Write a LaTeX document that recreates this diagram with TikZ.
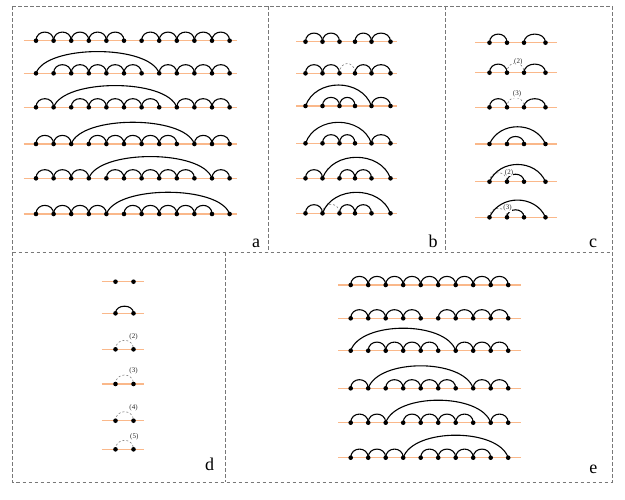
\documentclass[tikz,border=0pt]{standalone}
\usepackage{fontspec}
\setmainfont{Liberation Serif}
\usetikzlibrary{calc}
\definecolor{baseor}{RGB}{250,184,138}
\definecolor{framegray}{RGB}{120,120,120}
\tikzset{
  baseln/.style={draw=baseor, line width=1.1pt},
  arcln/.style={draw=black, line width=1.1pt},
  sa/.style={to path={.. controls +(0,-#1) and +(0,-#1) .. (\tikztotarget)}},
  sa/.default=11.5,
  ba/.style={to path={.. controls +(10,-#1) and +(-10,-#1) .. (\tikztotarget)}},
  dasharc/.style={draw=gray, line width=0.6pt, dash pattern=on 2pt off 2pt},
  lab/.style={font=\fontsize{7}{8}\selectfont, inner sep=0.4pt, fill=white, text=black!85},
  frameln/.style={draw=framegray, line width=0.8pt, dash pattern=on 3.5pt off 2.5pt},
  panel/.style={font=\fontsize{18}{20}\selectfont, anchor=base, inner sep=0pt},
}
\newcommand\mkrow[5]{%
  \foreach \xx [count=\ii] in #3 {\coordinate (#1-\ii) at (\xx,#2);}
  \coordinate (#1-L) at (#4,#2); \coordinate (#1-R) at (#5,#2);
  \draw[baseln] (#1-L) -- (#1-R);
}
\newcommand\mkdots[2]{\foreach \ii in {1,...,#2} {\fill (#1-\ii) circle (2.3);}}
\newcommand\arcchain[3]{%
  \pgfmathtruncatemacro\chs{#2+1}%
  \foreach \kk in {\chs,...,#3} {%
    \pgfmathtruncatemacro\jj{\kk-1}%
    \draw[arcln] (#1-\jj) to[sa] (#1-\kk);}%
}
\newcommand\bigarc[4]{\draw[arcln] (#1-#2) to[ba=#4] (#1-#3);}
\def\AX{36,53.6,71.2,88.8,106.4,124,141.6,159.2,176.8,194.4,212,229.6}
\def\BX{305.5,322.5,339.5,355,371.5,390.5}
\def\CX{489.5,507,524,545.5}
\def\DX{115.5,133.5}
\def\EX{350.7,368.2,385.7,403.2,420.7,438.2,455.7,473.2,490.7,508.2}
\begin{document}
\begin{tikzpicture}[x=1pt,y=-1pt]
\useasboundingbox (0,0) rectangle (625,499);
% frame
\draw[frameln] (12.5,6) rectangle (612,482);
\draw[frameln] (12.5,252) -- (612,252);
\draw[frameln] (268,6) -- (268,252);
\draw[frameln] (445,6) -- (445,252);
\draw[frameln] (225,252) -- (225,482);
\node[panel] (la) at (256,247.3) {a};
\node[panel] (lb) at (433,247.3) {b};
\node[panel] (lc) at (593,247.3) {c};
\node[panel] (ld) at (209.5,470) {d};
\node[panel] (le) at (593.3,473) {e};
% ---------- panel a ----------
\mkrow{a1}{40.7}{\AX}{23.5}{236.5}
\arcchain{a1}{1}{6}\arcchain{a1}{7}{12}
\mkdots{a1}{12}
\mkrow{a2}{73.3}{\AX}{23.5}{236.5}
\bigarc{a2}{1}{8}{29}\arcchain{a2}{2}{7}\arcchain{a2}{8}{12}
\mkdots{a2}{12}
\mkrow{a3}{107.3}{\AX}{23.5}{236.5}
\arcchain{a3}{1}{2}\bigarc{a3}{2}{9}{29}\arcchain{a3}{3}{8}\arcchain{a3}{9}{12}
\mkdots{a3}{12}
\mkrow{a4}{144}{\AX}{23.5}{236.5}
\arcchain{a4}{1}{3}\bigarc{a4}{3}{10}{29}\arcchain{a4}{4}{9}\arcchain{a4}{10}{12}
\mkdots{a4}{12}
\mkrow{a5}{178.3}{\AX}{23.5}{236.5}
\arcchain{a5}{1}{4}\bigarc{a5}{4}{11}{29}\arcchain{a5}{5}{10}\arcchain{a5}{11}{12}
\mkdots{a5}{12}
\mkrow{a6}{214}{\AX}{23.5}{236.5}
\arcchain{a6}{1}{5}\bigarc{a6}{5}{12}{29}\arcchain{a6}{6}{11}
\mkdots{a6}{12}
% ---------- panel b ----------
\mkrow{b1}{41.7}{\BX}{296}{397}
\arcchain{b1}{1}{3}\arcchain{b1}{4}{6}
\mkdots{b1}{6}
\mkrow{b2}{73.3}{\BX}{296}{397}
\draw[dasharc] (b2-3) to[sa=13] (b2-4);
\arcchain{b2}{1}{3}\arcchain{b2}{4}{6}
\mkdots{b2}{6}
\mkrow{b3}{106}{\BX}{296}{397}
\bigarc{b3}{1}{5}{28}\arcchain{b3}{2}{4}\arcchain{b3}{5}{6}
\mkdots{b3}{6}
\mkrow{b4}{143.3}{\BX}{296}{397}
\bigarc{b4}{1}{5}{28}\arcchain{b4}{2}{4}\arcchain{b4}{5}{6}
\mkdots{b4}{6}
\mkrow{b5}{178.3}{\BX}{296}{397}
\arcchain{b5}{1}{2}\bigarc{b5}{2}{6}{28}\arcchain{b5}{3}{5}
\mkdots{b5}{6}
\mkrow{b6}{213.3}{\BX}{296}{397}
\draw[dasharc] (b6-2) to[sa=12] (b6-3);
\arcchain{b6}{1}{2}\bigarc{b6}{2}{6}{28}\arcchain{b6}{3}{5}
\mkdots{b6}{6}
% ---------- panel c ----------
\mkrow{c1}{42.7}{\CX}{475}{556.7}
\arcchain{c1}{1}{2}\arcchain{c1}{3}{4}
\mkdots{c1}{4}
\mkrow{c2}{72.7}{\CX}{475}{556.7}
\draw[dasharc] (c2-2) to[sa=13] (c2-3);
\node[lab] (c2-lab) at ($(c2-3)+(-5.7,-11)$) {(2)};
\arcchain{c2}{1}{2}\arcchain{c2}{3}{4}
\mkdots{c2}{4}
\mkrow{c3}{107.3}{\CX}{475}{556.7}
\draw[dasharc] (c3-2) to[sa=13] (c3-3);
\node[lab] (c3-lab) at ($(c3-3)+(-7,-13)$) {(3)};
\arcchain{c3}{1}{2}\arcchain{c3}{3}{4}
\mkdots{c3}{4}
\mkrow{c4}{144}{\CX}{475}{556.7}
\bigarc{c4}{1}{4}{23}\draw[arcln] (c4-2) to[sa=10] (c4-3);
\mkdots{c4}{4}
\mkrow{c5}{181.7}{\CX}{475}{556.7}
\draw[dasharc] (c5-1) to[sa=12] (c5-2);
\bigarc{c5}{1}{4}{23}\draw[arcln] (c5-2) to[sa=10] (c5-3);
\node[lab] (c5-lab) at ($(c5-2)+(2,-9)$) {(2)};
\mkdots{c5}{4}
\mkrow{c6}{217.3}{\CX}{475}{556.7}
\draw[dasharc] (c6-1) to[sa=12] (c6-2);
\bigarc{c6}{1}{4}{23}\draw[arcln] (c6-2) to[sa=10] (c6-3);
\node[lab] (c6-lab) at ($(c6-2)+(0.5,-9)$) {(3)};
\mkdots{c6}{4}
% ---------- panel d ----------
\mkrow{d1}{281.7}{\DX}{101.7}{144.3}
\mkdots{d1}{2}
\mkrow{d2}{313.3}{\DX}{101.7}{144.3}
\draw[arcln] (d2-1) to[sa=9.5] (d2-2);
\mkdots{d2}{2}
\mkrow{d3}{349.3}{\DX}{101.7}{144.3}
\draw[dasharc] (d3-1) to[sa=12] (d3-2);
\node[lab] (d3-lab) at ($(d3-2)+(0,-12.8)$) {(2)};
\mkdots{d3}{2}
\mkrow{d4}{384}{\DX}{101.7}{144.3}
\draw[dasharc] (d4-1) to[sa=12] (d4-2);
\node[lab] (d4-lab) at ($(d4-2)+(0,-12.8)$) {(3)};
\mkdots{d4}{2}
\mkrow{d5}{420.7}{\DX}{101.7}{144.3}
\draw[dasharc] (d5-1) to[sa=12] (d5-2);
\node[lab] (d5-lab) at ($(d5-2)+(0,-12.8)$) {(4)};
\mkdots{d5}{2}
\mkrow{d6}{449.3}{\DX}{101.7}{144.3}
\draw[dasharc] (d6-1) to[sa=12] (d6-2);
\node[lab] (d6-lab) at ($(d6-2)+(0.8,-12.4)$) {(5)};
\mkdots{d6}{2}
% ---------- panel e ----------
\mkrow{e1}{285}{\EX}{338.3}{520.7}
\arcchain{e1}{1}{10}
\mkdots{e1}{10}
\mkrow{e2}{318.3}{\EX}{338.3}{520.7}
\arcchain{e2}{1}{5}\arcchain{e2}{6}{10}
\mkdots{e2}{10}
\mkrow{e3}{350.7}{\EX}{338.3}{520.7}
\bigarc{e3}{1}{7}{30}\arcchain{e3}{2}{6}\arcchain{e3}{7}{10}
\mkdots{e3}{10}
\mkrow{e4}{388.3}{\EX}{338.3}{520.7}
\arcchain{e4}{1}{2}\bigarc{e4}{2}{8}{30}\arcchain{e4}{3}{7}\arcchain{e4}{8}{10}
\mkdots{e4}{10}
\mkrow{e5}{422.7}{\EX}{338.3}{520.7}
\arcchain{e5}{1}{3}\bigarc{e5}{3}{9}{30}\arcchain{e5}{4}{8}\arcchain{e5}{9}{10}
\mkdots{e5}{10}
\mkrow{e6}{457.7}{\EX}{338.3}{520.7}
\arcchain{e6}{1}{4}\bigarc{e6}{4}{10}{30}\arcchain{e6}{5}{9}
\mkdots{e6}{10}
\end{tikzpicture}
\end{document}
